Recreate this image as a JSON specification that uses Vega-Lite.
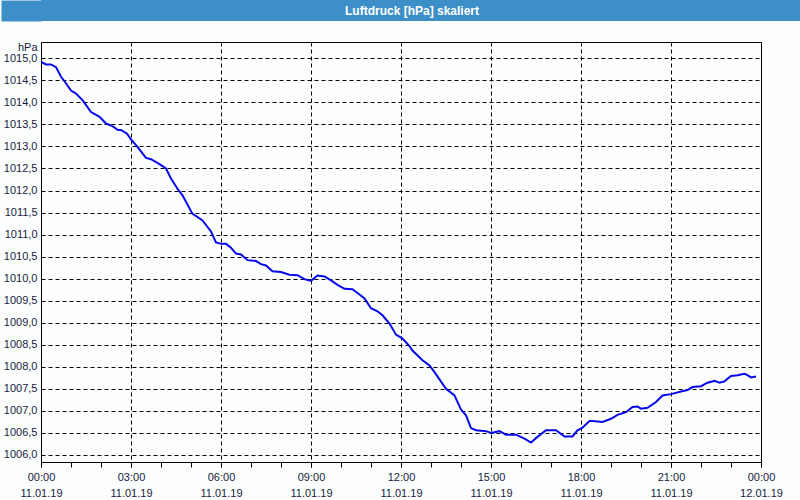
{
  "$schema": "https://vega.github.io/schema/vega-lite/v6.json",
  "padding": 0,
  "background": "#fbfefd",
  "spacing": 19,
  "columns": 1,
  "align": "none",
  "concat": [
    {
      "width": 760,
      "height": 21,
      "view": {"fill": "#3d8fc8", "stroke": null},
      "data": {"values": [{"title": "Luftdruck [hPa] skaliert"}]},
      "mark": {"type": "text", "font": "Liberation Sans", "fontSize": 12, "fontWeight": "bold", "color": "#ffffff", "dx": -9, "baseline": "middle"},
      "encoding": {
        "text": {"field": "title", "type": "nominal"},
        "y": {
          "datum": 1,
          "type": "quantitative",
          "scale": {"domain": [0, 2]},
          "axis": {
            "title": null,
            "labels": false,
            "ticks": false,
            "grid": false,
            "domain": true,
            "domainColor": "#3d8fc8",
            "domainWidth": 40,
            "domainCap": "butt",
            "offset": 20
          }
        }
      }
    },
    {
      "width": 720,
      "height": 420,
      "view": {"stroke": "#000000", "strokeWidth": 1},
      "data": {"values": [
        {"h": 0, "p": 1014.92}, {"h": 0.167, "p": 1014.86}, {"h": 0.333, "p": 1014.86}, {"h": 0.5, "p": 1014.80},
        {"h": 0.667, "p": 1014.58}, {"h": 0.783, "p": 1014.48}, {"h": 1, "p": 1014.27}, {"h": 1.167, "p": 1014.20},
        {"h": 1.383, "p": 1014.05}, {"h": 1.667, "p": 1013.78}, {"h": 1.95, "p": 1013.67}, {"h": 2.167, "p": 1013.52},
        {"h": 2.383, "p": 1013.46}, {"h": 2.55, "p": 1013.38}, {"h": 2.683, "p": 1013.37}, {"h": 2.867, "p": 1013.29},
        {"h": 3, "p": 1013.16}, {"h": 3.217, "p": 1012.99}, {"h": 3.5, "p": 1012.74}, {"h": 3.667, "p": 1012.71},
        {"h": 3.95, "p": 1012.60}, {"h": 4.167, "p": 1012.50}, {"h": 4.333, "p": 1012.27}, {"h": 4.55, "p": 1012.04},
        {"h": 4.717, "p": 1011.89}, {"h": 5.05, "p": 1011.47}, {"h": 5.217, "p": 1011.40}, {"h": 5.383, "p": 1011.32},
        {"h": 5.667, "p": 1011.07}, {"h": 5.833, "p": 1010.82}, {"h": 6, "p": 1010.79}, {"h": 6.167, "p": 1010.79},
        {"h": 6.333, "p": 1010.70}, {"h": 6.5, "p": 1010.57}, {"h": 6.667, "p": 1010.55}, {"h": 6.883, "p": 1010.42},
        {"h": 7.167, "p": 1010.40}, {"h": 7.333, "p": 1010.33}, {"h": 7.5, "p": 1010.30}, {"h": 7.717, "p": 1010.17},
        {"h": 8, "p": 1010.15}, {"h": 8.283, "p": 1010.09}, {"h": 8.55, "p": 1010.08}, {"h": 8.783, "p": 1009.99},
        {"h": 9, "p": 1009.95}, {"h": 9.217, "p": 1010.07}, {"h": 9.45, "p": 1010.05}, {"h": 9.667, "p": 1009.96},
        {"h": 9.883, "p": 1009.86}, {"h": 10.117, "p": 1009.77}, {"h": 10.383, "p": 1009.76}, {"h": 10.617, "p": 1009.64},
        {"h": 10.783, "p": 1009.55}, {"h": 11, "p": 1009.33}, {"h": 11.217, "p": 1009.26}, {"h": 11.383, "p": 1009.17},
        {"h": 11.617, "p": 1008.98}, {"h": 11.833, "p": 1008.73}, {"h": 12.05, "p": 1008.64}, {"h": 12.283, "p": 1008.47},
        {"h": 12.383, "p": 1008.37}, {"h": 12.717, "p": 1008.15}, {"h": 12.95, "p": 1008.03}, {"h": 13.117, "p": 1007.88},
        {"h": 13.5, "p": 1007.50}, {"h": 13.783, "p": 1007.35}, {"h": 14, "p": 1007.03}, {"h": 14.167, "p": 1006.90},
        {"h": 14.333, "p": 1006.61}, {"h": 14.5, "p": 1006.56}, {"h": 14.833, "p": 1006.54}, {"h": 15, "p": 1006.50},
        {"h": 15.283, "p": 1006.54}, {"h": 15.5, "p": 1006.46}, {"h": 15.833, "p": 1006.46}, {"h": 16.117, "p": 1006.37},
        {"h": 16.333, "p": 1006.28}, {"h": 16.55, "p": 1006.41}, {"h": 16.833, "p": 1006.56}, {"h": 17.167, "p": 1006.56},
        {"h": 17.45, "p": 1006.42}, {"h": 17.717, "p": 1006.42}, {"h": 17.883, "p": 1006.56}, {"h": 18.05, "p": 1006.62},
        {"h": 18.283, "p": 1006.77}, {"h": 18.383, "p": 1006.77}, {"h": 18.717, "p": 1006.75}, {"h": 19, "p": 1006.82},
        {"h": 19.217, "p": 1006.91}, {"h": 19.5, "p": 1006.97}, {"h": 19.717, "p": 1007.09}, {"h": 19.883, "p": 1007.10},
        {"h": 20, "p": 1007.05}, {"h": 20.217, "p": 1007.07}, {"h": 20.5, "p": 1007.20}, {"h": 20.717, "p": 1007.35},
        {"h": 21, "p": 1007.38}, {"h": 21.333, "p": 1007.44}, {"h": 21.55, "p": 1007.47}, {"h": 21.717, "p": 1007.54},
        {"h": 22, "p": 1007.56}, {"h": 22.217, "p": 1007.64}, {"h": 22.45, "p": 1007.68}, {"h": 22.617, "p": 1007.64},
        {"h": 22.783, "p": 1007.67}, {"h": 23, "p": 1007.79}, {"h": 23.217, "p": 1007.81}, {"h": 23.45, "p": 1007.84},
        {"h": 23.55, "p": 1007.81}, {"h": 23.667, "p": 1007.76}, {"h": 23.833, "p": 1007.78}
      ]},
      "encoding": {
        "y": {
          "field": "p",
          "type": "quantitative",
          "scale": {"domain": [1005.84, 1015.37], "nice": false, "zero": false},
          "axis": {
            "title": "hPa",
            "titleAngle": 0,
            "titleAlign": "right",
            "titleBaseline": "middle",
            "titleX": -4,
            "titleY": 5,
            "titleFont": "Liberation Sans",
            "titleFontSize": 11,
            "titleFontWeight": "normal",
            "titleColor": "#1a1a40",
            "values": [1006, 1006.5, 1007, 1007.5, 1008, 1008.5, 1009, 1009.5, 1010, 1010.5, 1011, 1011.5, 1012, 1012.5, 1013, 1013.5, 1014, 1014.5, 1015],
            "labelExpr": "replace(format(datum.value, '.1f'), '.', ',')",
            "domain": false,
            "ticks": false,
            "grid": true,
            "gridColor": "#000000",
            "gridDash": [4, 3],
            "labelFont": "Liberation Sans",
            "labelFontSize": 11,
            "labelColor": "#1a1a40",
            "labelPadding": 4,
            "minExtent": 40
          }
        }
      },
      "layer": [
        {
          "mark": {"type": "line", "color": "#0808e8", "strokeWidth": 2, "clip": true},
          "encoding": {
            "x": {
              "field": "h",
              "type": "quantitative",
              "scale": {"domain": [0, 24], "nice": false, "zero": false},
              "axis": {
                "orient": "bottom",
                "title": null,
                "domain": false,
                "values": [0, 3, 6, 9, 12, 15, 18, 21, 24],
                "ticks": true,
                "tickSize": 5,
                "tickColor": "#000000",
                "grid": true,
                "gridColor": "#000000",
                "gridDash": [4, 3],
                "labelExpr": "(datum.value % 24 < 10 ? '0' : '') + (datum.value % 24) + ':00'",
                "labelOverlap": false,
                "labelFlush": false,
                "labelFont": "Liberation Sans",
                "labelFontSize": 11,
                "labelColor": "#1a1a40",
                "labelBaseline": "top",
                "labelPadding": 4
              }
            }
          }
        },
        {
          "mark": {"type": "line", "opacity": 0},
          "encoding": {
            "x": {
              "field": "h",
              "type": "quantitative",
              "scale": {"domain": [0, 24], "nice": false, "zero": false},
              "axis": {
                "orient": "bottom",
                "title": null,
                "domain": false,
                "values": [0, 1, 2, 3, 4, 5, 6, 7, 8, 9, 10, 11, 12, 13, 14, 15, 16, 17, 18, 19, 20, 21, 22, 23, 24],
                "ticks": true,
                "tickSize": 5,
                "tickColor": "#000000",
                "grid": false,
                "labels": false
              }
            }
          }
        },
        {
          "mark": {"type": "line", "opacity": 0},
          "encoding": {
            "x": {
              "field": "h",
              "type": "quantitative",
              "scale": {"domain": [0, 24], "nice": false, "zero": false},
              "axis": {
                "orient": "bottom",
                "title": null,
                "domain": false,
                "values": [0, 3, 6, 9, 12, 15, 18, 21, 24],
                "ticks": false,
                "tickSize": 0,
                "grid": false,
                "labelExpr": "datum.value >= 24 ? '12.01.19' : '11.01.19'",
                "labelOverlap": false,
                "labelFlush": false,
                "labelFont": "Liberation Sans",
                "labelFontSize": 11,
                "labelColor": "#1a1a40",
                "labelBaseline": "top",
                "labelPadding": 25
              }
            }
          }
        }
      ],
      "resolve": {"axis": {"x": "independent"}}
    }
  ]
}
